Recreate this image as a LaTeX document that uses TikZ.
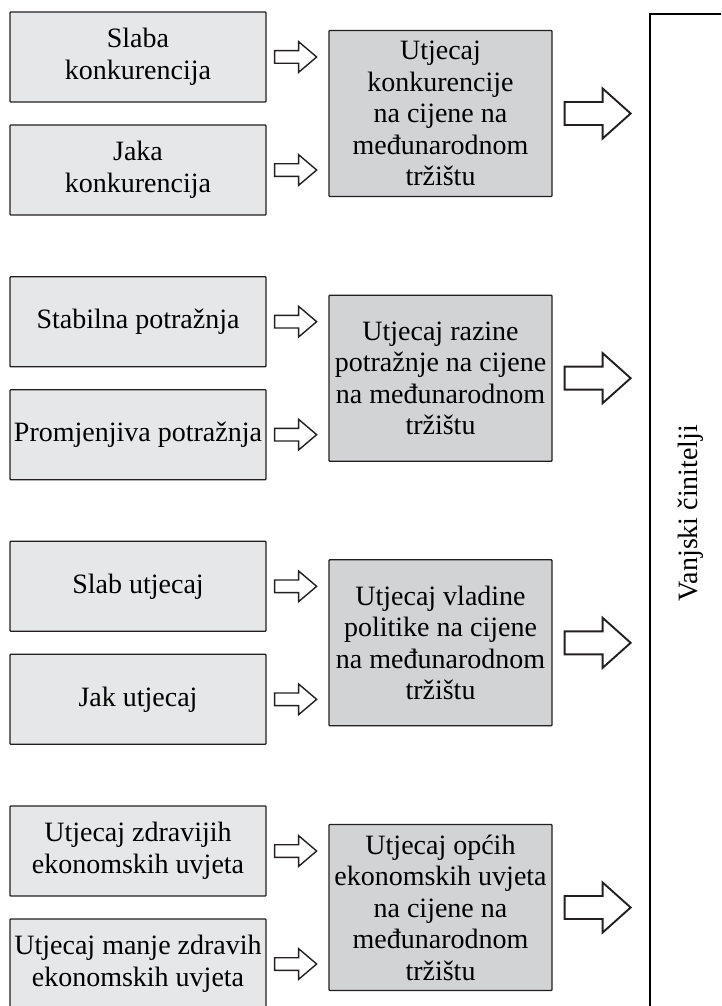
\documentclass[tikz,border=0pt]{standalone}
\usepackage{fontspec}
\setmainfont{Liberation Serif}
\usetikzlibrary{calc}
\definecolor{lightbox}{HTML}{E6E7E8}
\definecolor{darkbox}{HTML}{D1D3D4}
\definecolor{edge}{HTML}{231F20}
\tikzset{
  txt/.style={font=\fontsize{28}{31.5}\selectfont, align=center, text=black},
  leftbox/.style={txt, draw=edge, line width=1.3pt, fill=lightbox, rounded corners=0.8pt,
    minimum width=256pt, minimum height=90pt, inner sep=0pt},
  midbox/.style={txt, draw=edge, line width=1.3pt, fill=darkbox, rounded corners=0.8pt,
    minimum width=223pt, minimum height=166pt, inner sep=0pt},
  arrowline/.style={draw=edge, line width=1.4pt, fill=white, line join=miter},
  bigarrowline/.style={draw=edge, line width=1.9pt, fill=white, line join=miter},
  extbox/.style={draw=black, line width=1.6pt, minimum width=84pt, minimum height=1002pt,
    inner sep=0pt, anchor=north west},
}
\newcommand{\smallarr}[1]{\draw[arrowline] ($#1+(0,6.3)$) -- ++(24,0) -- ++(0,9) -- ++(18,-15.3) -- ++(-18,-15.3) -- ++(0,9) -- ++(-24,0) -- cycle;}
\newcommand{\bigarr}[1]{\draw[bigarrowline] ($#1+(0,11.5)$) -- ++(38,0) -- ++(0,13.5) -- ++(28,-25) -- ++(-28,-25) -- ++(0,13.5) -- ++(-38,0) -- cycle;}
\begin{document}
\begin{tikzpicture}[x=1pt,y=-1pt]
\useasboundingbox (0,0) rectangle (721,1006);
\clip (0,0) rectangle (721,1006);

% right box
\node[extbox] (ext) at (649,13) {};
\node[txt, rotate=90] (extlabel) at (691,513) {Vanjski činitelji};

% group 1
\node[leftbox] (a1) at (138,57) {Slaba\\konkurencija};
\node[leftbox] (b1) at (138,170) {Jaka\\konkurencija};
\node[midbox] (m1) at (440.5,113.5) {Utjecaj\\konkurencije\\na cijene na\\međunarodnom\\tržištu};

% group 2
\node[leftbox] (a2) at (138,321.67) {Stabilna potražnja};
\node[leftbox] (b2) at (138,434.67) {Promjenjiva potražnja};
\node[midbox] (m2) at (440.5,378.17) {Utjecaj razine\\potražnje na cijene\\na međunarodnom\\tržištu};

% group 3
\node[leftbox] (a3) at (138,586.33) {Slab utjecaj};
\node[leftbox] (b3) at (138,699.33) {Jak utjecaj};
\node[midbox] (m3) at (440.5,642.83) {Utjecaj vladine\\politike na cijene\\na međunarodnom\\tržištu};

% group 4
\node[leftbox] (a4) at (138,851) {Utjecaj zdravijih\\ekonomskih uvjeta};
\node[leftbox] (b4) at (138,964) {Utjecaj manje zdravih\\ekonomskih uvjeta};
\node[midbox] (m4) at (440.5,907.5) {Utjecaj općih\\ekonomskih uvjeta\\na cijene na\\međunarodnom\\tržištu};

% arrows
\foreach \i in {1,2,3,4}{
  \coordinate (sa\i) at ($(a\i.east)+(8,0)$);
  \coordinate (sb\i) at ($(b\i.east)+(8,0)$);
  \coordinate (sm\i) at ($(m\i.east)+(12,0)$);
  \smallarr{(sa\i)}
  \smallarr{(sb\i)}
  \bigarr{(sm\i)}
}
\end{tikzpicture}
\end{document}
